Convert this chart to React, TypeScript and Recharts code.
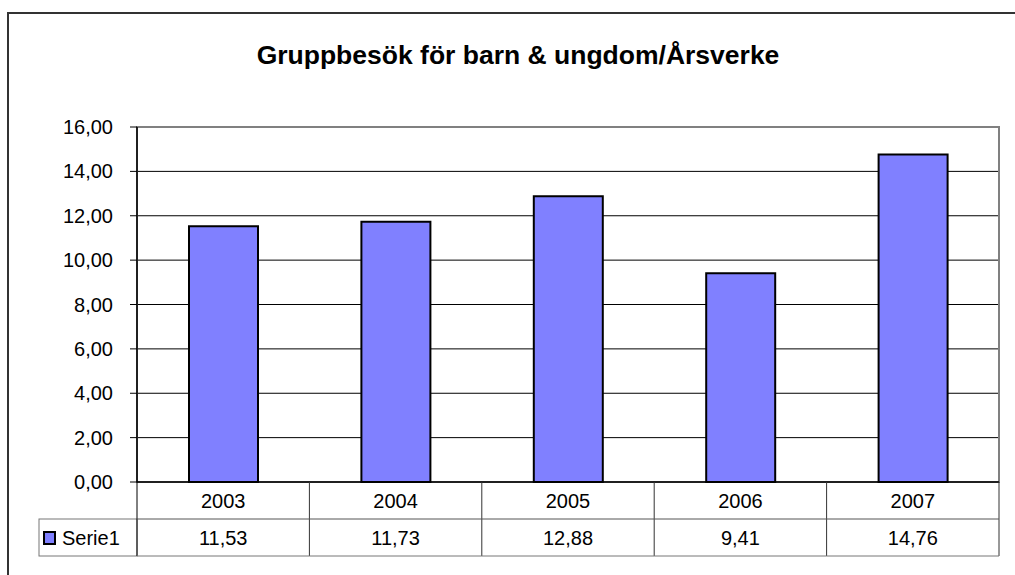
import React from 'react';
import { BarChart, Bar, XAxis, YAxis, CartesianGrid, ReferenceArea } from 'recharts';

const years = ['2003', '2004', '2005', '2006', '2007'];
const serie1 = [11.53, 11.73, 12.88, 9.41, 14.76];
const yTicks = [0, 2, 4, 6, 8, 10, 12, 14, 16];

const seriesName = 'Serie1';
const title = 'Gruppbesök för barn & ungdom/Årsverke';

const W = 1015;
const H = 575;
const FONT = '"Liberation Sans", Arial, sans-serif';
const BAR_FILL = '#8080ff';
const ROW_H = 37;
const margin = { top: 127, right: 16, bottom: 19, left: 57 };
const Y_AXIS_W = 80;
const plotWidth = W - margin.left - Y_AXIS_W - margin.right;

const fmt = (v: number) => v.toFixed(2).replace('.', ',');

const data = years.map((year, i) => ({ year, value: serie1[i] }));

// data table under the plot, one column per category
function TableTick(props: any) {
  const { x, y, index } = props;
  const half = plotWidth / years.length / 2;
  const left = x - half;
  const right = x + half;
  return (
    <g>
      {index === 0 && <line x1={left} y1={y} x2={left} y2={y + ROW_H * 2} stroke="#000" strokeWidth={1} />}
      <line x1={right} y1={y} x2={right} y2={y + ROW_H * 2} stroke="#333" strokeWidth={1} />
      <line x1={left} y1={y + ROW_H} x2={right} y2={y + ROW_H} stroke="#555" strokeWidth={1} />
      <line x1={left} y1={y + ROW_H * 2} x2={right} y2={y + ROW_H * 2} stroke="#777" strokeWidth={1} />
      <text x={x} y={y + 26} textAnchor="middle" fontSize={20} fontFamily={FONT} fill="#000">
        {years[index]}
      </text>
      <text x={x} y={y + ROW_H + 26} textAnchor="middle" fontSize={20} fontFamily={FONT} fill="#000">
        {fmt(serie1[index])}
      </text>
    </g>
  );
}

export default function App() {
  const tableTop = H - margin.bottom - ROW_H * 2;
  const axisX = margin.left + Y_AXIS_W;
  return (
    <div style={{ position: 'fixed', left: 0, top: 0, width: W, height: H, overflow: 'hidden', background: '#fff' }}>
      <div
        style={{
          position: 'absolute',
          left: 7,
          top: 12,
          width: W + 20,
          height: H + 20,
          borderLeft: '2px solid #333',
          borderTop: '2px solid #333',
        }}
      />
      <svg width={W} height={H} style={{ position: 'absolute', left: 0, top: 0 }}>
        <text x={518} y={64} textAnchor="middle" fontSize={26.5} fontWeight="bold" fontFamily={FONT} fill="#000">
          {title}
        </text>
        {/* legend key cell of the data table */}
        <rect x={39} y={tableTop + ROW_H} width={axisX - 39} height={ROW_H} fill="none" stroke="#777" strokeWidth={1} />
        <rect x={44} y={tableTop + ROW_H + 13} width={11} height={12} fill={BAR_FILL} stroke="#000" strokeWidth={2} />
        <text x={62} y={tableTop + ROW_H + 26} fontSize={20} fontFamily={FONT} fill="#000">
          {seriesName}
        </text>
      </svg>
      <div style={{ position: 'absolute', left: 0, top: 0 }}>
        <BarChart width={W} height={H} data={data} margin={margin}>
          <CartesianGrid horizontal vertical={false} stroke="#000" strokeWidth={1} />
          <ReferenceArea y1={0} y2={16} fill="none" stroke="#808080" strokeWidth={2} ifOverflow="visible" />
          <XAxis
            dataKey="year"
            axisLine={{ stroke: '#000', strokeWidth: 1.5 }}
            tickLine={false}
            tickSize={0}
            tickMargin={0}
            height={ROW_H * 2}
            interval={0}
            tick={<TableTick />}
          />
          <YAxis
            width={Y_AXIS_W}
            domain={[0, 16]}
            ticks={yTicks}
            interval={0}
            tickFormatter={fmt}
            axisLine={{ stroke: '#000', strokeWidth: 1.5 }}
            tickLine={{ stroke: '#000' }}
            tickSize={7}
            tickMargin={17}
            tick={{ fill: '#000', fontSize: 20, fontFamily: FONT }}
          />
          <Bar dataKey="value" fill={BAR_FILL} stroke="#000" strokeWidth={2} barSize={69} isAnimationActive={false} />
        </BarChart>
      </div>
    </div>
  );
}
